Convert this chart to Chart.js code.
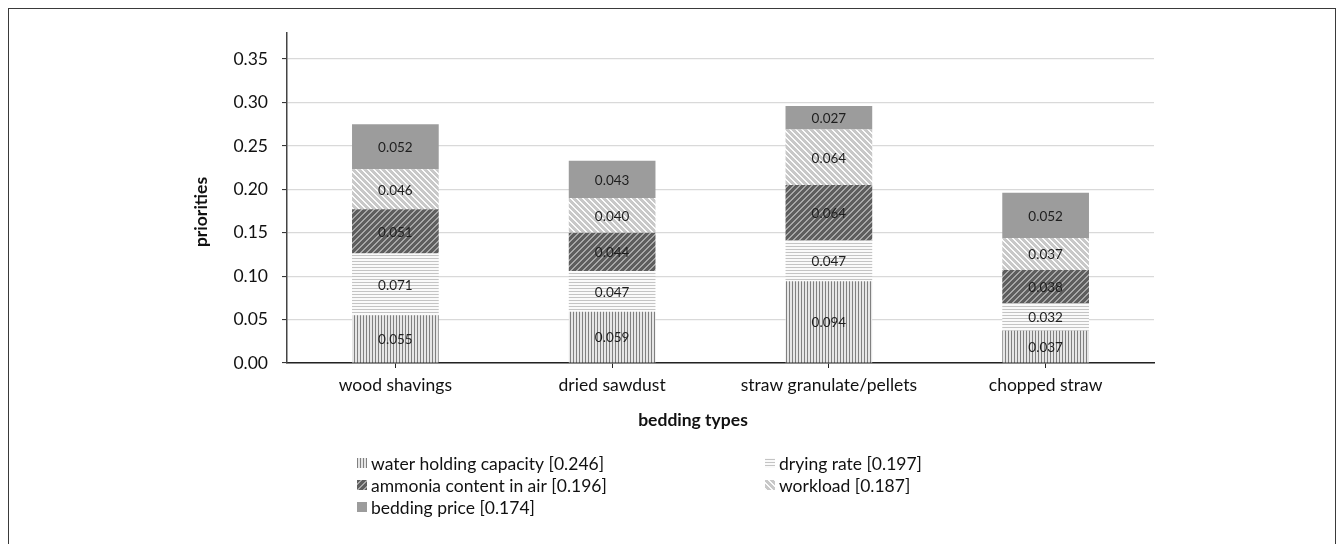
<!DOCTYPE html>
<html>
<head>
<meta charset="utf-8">
<script src="https://cdn.jsdelivr.net/npm/chart.js@4/dist/chart.umd.min.js"></script>
<style>
  html, body { margin: 0; padding: 0; background: #fff; overflow: hidden; }
  #wrap { position: relative; width: 1340px; height: 544px; }
  #frame { position: absolute; left: 8px; top: 8px; width: 1328px; height: 600px;
           border: 1.5px solid #3a3a3a; box-sizing: border-box; pointer-events: none; }
  canvas { position: absolute; left: 0; top: 0; }
</style>
</head>
<body>
<div id="wrap">
  <canvas id="c" width="1340" height="544"></canvas>
  <div id="frame"></div>
</div>
<script>
// Bedding types on the x axis
const categories = ['wood shavings', 'dried sawdust', 'straw granulate/pellets', 'chopped straw'];

// Criteria (with their weights) stacked in each bar
const seriesNames = [
  'water holding capacity [0.246]',
  'drying rate [0.197]',
  'ammonia content in air [0.196]',
  'workload [0.187]',
  'bedding price [0.174]'
];

// Priority contributions per bedding type
const waterHolding = [0.055, 0.059, 0.094, 0.037];
const dryingRate   = [0.071, 0.047, 0.047, 0.032];
const ammonia      = [0.051, 0.044, 0.064, 0.038];
const workload     = [0.046, 0.040, 0.064, 0.037];
const beddingPrice = [0.052, 0.043, 0.027, 0.052];

// Y axis tick values
const yTicks = [0, 0.05, 0.10, 0.15, 0.20, 0.25, 0.30, 0.35];

const FONT = 'Lato';

// Build a small repeating fill pattern pixel by pixel
function makePattern(size, fn) {
  const cv = document.createElement('canvas');
  cv.width = size; cv.height = size;
  const g = cv.getContext('2d');
  const img = g.createImageData(size, size);
  for (let y = 0; y < size; y++) {
    for (let x = 0; x < size; x++) {
      const c = fn(x, y);
      const i = (y * size + x) * 4;
      img.data[i] = c; img.data[i + 1] = c; img.data[i + 2] = c; img.data[i + 3] = 255;
    }
  }
  g.putImageData(img, 0, 0);
  return document.createElement('canvas').getContext('2d').createPattern(cv, 'repeat');
}

const fills = [
  makePattern(3, (x, y) => (x === 0 ? 0x80 : 0xe6)),                  // vertical lines
  makePattern(3, (x, y) => (y === 0 ? 0xc4 : 0xfa)),                  // horizontal lines
  makePattern(6, (x, y) => (((x + y) % 6) < 2 ? 0xa8 : 0x5e)),        // dark "/" diagonals
  makePattern(6, (x, y) => ((((x - y) % 6) + 6) % 6 < 2 ? 0xfb : 0xc8)), // light "\" diagonals
  '#9c9c9c'                                                            // solid
];

const seriesValues = [waterHolding, dryingRate, ammonia, workload, beddingPrice];

// Value labels centred in every segment
const segmentLabels = {
  id: 'segmentLabels',
  afterDatasetsDraw(chart) {
    const ctx = chart.ctx;
    ctx.save();
    ctx.font = '13.5px ' + FONT;
    ctx.fillStyle = '#1e1e1e';
    ctx.textAlign = 'center';
    ctx.textBaseline = 'middle';
    chart.data.datasets.forEach((ds, di) => {
      chart.getDatasetMeta(di).data.forEach((bar, i) => {
        const p = bar.getProps(['x', 'y', 'base'], true);
        ctx.fillText(ds.data[i].toFixed(3), p.x, (p.y + p.base) / 2 + 1);
      });
    });
    ctx.restore();
  }
};

// Axis titles and the two-column legend
const decorations = {
  id: 'decorations',
  afterDraw(chart) {
    const ctx = chart.ctx;
    ctx.save();
    ctx.fillStyle = '#111';
    ctx.font = 'bold 17.5px ' + FONT;
    ctx.textAlign = 'center';
    ctx.textBaseline = 'middle';
    ctx.fillText('bedding types', 693, 420);
    ctx.save();
    ctx.translate(201, 212);
    ctx.rotate(-Math.PI / 2);
    ctx.fillText('priorities', 0, 0);
    ctx.restore();

    const cols = [357, 765];
    const rows = [463, 485, 507];
    ctx.font = '17.5px ' + FONT;
    ctx.textAlign = 'left';
    chart.data.datasets.forEach((ds, i) => {
      const x = cols[i % 2];
      const y = rows[Math.floor(i / 2)];
      ctx.fillStyle = ds.backgroundColor;
      ctx.fillRect(x, y - 5, 10, 10);
      ctx.fillStyle = '#111';
      ctx.fillText(ds.label, x + 14, y + 1);
    });
    ctx.restore();
  }
};

new Chart(document.getElementById('c'), {
  type: 'bar',
  data: {
    labels: categories,
    datasets: seriesNames.map((name, i) => ({
      label: name,
      data: seriesValues[i],
      backgroundColor: fills[i],
      borderWidth: 0,
      categoryPercentage: 1,
      barPercentage: 0.4
    }))
  },
  options: {
    responsive: false,
    animation: false,
    devicePixelRatio: 1,
    layout: { padding: { left: 207, right: 186, top: 33, bottom: 141 } },
    plugins: { legend: { display: false }, tooltip: { enabled: false } },
    scales: {
      x: {
        stacked: true,
        afterFit(s) { s.height = 40; },
        grid: { offset: false, drawOnChartArea: false, tickLength: 5, tickColor: '#222', tickWidth: 1 },
        border: { color: '#222', width: 1.5 },
        ticks: { color: '#111', font: { family: FONT, size: 17.5 }, padding: 7 }
      },
      y: {
        stacked: true,
        min: 0,
        max: 0.38,
        afterFit(s) { s.width = 80; },
        afterBuildTicks(s) { s.ticks = yTicks.map(v => ({ value: v })); },
        grid: { color: '#d9d9d9', lineWidth: 1.2, tickLength: 5, tickColor: '#222', tickWidth: 1 },
        border: { color: '#444', width: 1.5 },
        ticks: {
          color: '#111',
          font: { family: FONT, size: 17.5 },
          padding: 14,
          callback: v => Number(v).toFixed(2)
        }
      }
    }
  },
  plugins: [segmentLabels, decorations]
});
</script>
</body>
</html>
